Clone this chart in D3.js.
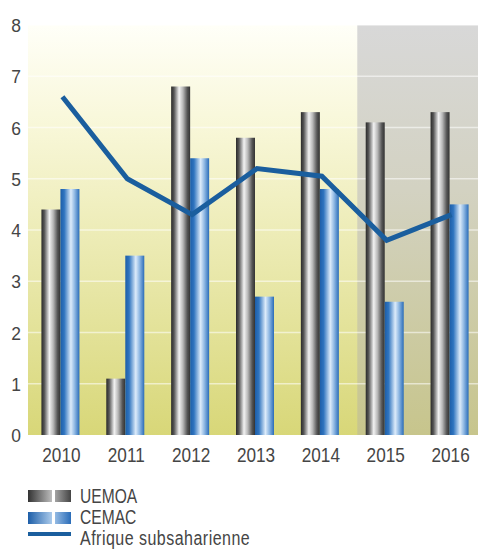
<!DOCTYPE html>
<html><head><meta charset="utf-8">
<script src="https://cdn.jsdelivr.net/npm/d3@7"></script>
<style>html,body{margin:0;padding:0;background:#fff;}svg{display:block;}</style>
</head><body>
<svg id="chart" width="478" height="553"></svg>
<script>
const years = ["2010","2011","2012","2013","2014","2015","2016"];
const uemoa = [4.4, 1.1, 6.8, 5.8, 6.3, 6.1, 6.3];
const cemac = [4.8, 3.5, 5.4, 2.7, 4.8, 2.6, 4.5];
const afrique = [6.6, 5.0, 4.3, 5.2, 5.05, 3.8, 4.3];
const yTicks = [0,1,2,3,4,5,6,7,8];
const shadedYears = ["2015","2016"];
const seriesNames = ["UEMOA", "CEMAC", "Afrique subsaharienne"];

(function(){
const svg = d3.select("#chart");
const font = "'Liberation Sans Narrow','Arial Narrow','Liberation Sans',Arial,sans-serif";
const pLeft = 28, pRight = 482, pTop = 25, pBottom = 435;

const x = d3.scaleBand().domain(years).range([pLeft, pRight]).padding(0);
const inner = d3.scaleBand().domain(["u","c"]).range([0, 38]);
const y = d3.scaleLinear().domain([0, 8]).range([pBottom, pTop]);

const defs = svg.append("defs");
const bg = defs.append("linearGradient").attr("id","bg").attr("x1",0).attr("y1",0).attr("x2",0).attr("y2",1);
bg.append("stop").attr("offset","0%").attr("stop-color","#fffff8");
bg.append("stop").attr("offset","25%").attr("stop-color","#f8f7d8");
bg.append("stop").attr("offset","100%").attr("stop-color","#d8d778");
const gbg = defs.append("linearGradient").attr("id","gbg").attr("x1",0).attr("y1",0).attr("x2",0).attr("y2",1);
gbg.append("stop").attr("offset","0%").attr("stop-color","#d8d8d8");
gbg.append("stop").attr("offset","40%").attr("stop-color","#d3d2c2");
gbg.append("stop").attr("offset","100%").attr("stop-color","#c7c58c");

function cyl(id, stops, user){
  const g = defs.append("linearGradient").attr("id",id);
  if (user) g.attr("gradientUnits","userSpaceOnUse").attr("x1",user[0]).attr("x2",user[1]).attr("y1",0).attr("y2",0);
  else g.attr("x1",0).attr("y1",0).attr("x2",1).attr("y2",0);
  stops.forEach(s=>g.append("stop").attr("offset",s[0]).attr("stop-color",s[1]));
}
cyl("gu", [["0%","#2a2a2a"],["15%","#555"],["42%","#f2f2f2"],["62%","#b8b8b8"],["85%","#555"],["100%","#333"]]);
cyl("gc", [["0%","#1d5ea8"],["20%","#2f74bf"],["55%","#dcebfa"],["75%","#8fb8e3"],["100%","#2a6cb8"]]);
cyl("lu", [["0%","#333"],["55%","#bbb"],["60%","#aaa"],["100%","#444"]], [28,71]);
cyl("lc", [["0%","#1d5ea8"],["55%","#a9c9ea"],["60%","#9cc0e6"],["100%","#2a6cb8"]], [28,71]);

svg.append("rect").attr("x", pLeft).attr("y", y(8)).attr("width", 478-pLeft).attr("height", y(0)-y(8)).attr("fill","url(#bg)");
const gx = x(shadedYears[0]) + 5;
svg.append("rect").attr("x", gx).attr("y", y(8)).attr("width", 478-gx).attr("height", y(0)-y(8)).attr("fill","url(#gbg)");

svg.append("g").selectAll("line").data(yTicks.filter(d=>d>0)).join("line")
  .attr("x1", pLeft).attr("x2", 478).attr("y1", d=>y(d)).attr("y2", d=>y(d))
  .attr("stroke","#ffffff").attr("stroke-opacity",0.55).attr("stroke-width",1.5);

function label(g, tx, ty, txt, size, anchor, sx, ls){
  return g.append("text").attr("transform", `translate(${tx},${ty}) scale(${sx},1)`)
    .attr("text-anchor", anchor).attr("font-family", font).attr("font-size", size)
    .attr("letter-spacing", ls || 0)
    .attr("fill", "#454545").text(txt);
}
const yl = svg.append("g");
yTicks.forEach(d => label(yl, 16, y(d)+7, d, 19, "middle", 0.92));

const groups = svg.append("g").selectAll("g").data(years).join("g")
  .attr("transform", d=>`translate(${x(d)+x.bandwidth()/2-19},0)`);
groups.append("rect").attr("x", inner("u")).attr("width", inner.bandwidth())
  .attr("y", (d,i)=>y(uemoa[i])).attr("height",(d,i)=>y(0)-y(uemoa[i])).attr("fill","url(#gu)");
groups.append("rect").attr("x", inner("c")).attr("width", inner.bandwidth())
  .attr("y", (d,i)=>y(cemac[i])).attr("height",(d,i)=>y(0)-y(cemac[i])).attr("fill","url(#gc)");

const line = d3.line().x((d,i)=>x(years[i])+x.bandwidth()/2+2).y(d=>y(d));
svg.append("path").datum(afrique).attr("d", line).attr("fill","none")
  .attr("stroke","#1a5e9e").attr("stroke-width",5).attr("stroke-linejoin","miter");

const xl = svg.append("g");
years.forEach(d => label(xl, x(d)+x.bandwidth()/2+1, 462, d, 20, "middle", 0.86));

const lg = svg.append("g");
const ly = [496, 518];
const lb = [503, 524];
["url(#lu)","url(#lc)"].forEach((f,i)=>{
  lg.append("rect").attr("x",28).attr("y",ly[i]-6).attr("width",24).attr("height",12).attr("fill",f);
  lg.append("rect").attr("x",55).attr("y",ly[i]-6).attr("width",16).attr("height",12).attr("fill",f);
  label(lg, 80, lb[i], seriesNames[i], 20, "start", 0.78);
});
lg.append("line").attr("x1",28).attr("x2",71).attr("y1",534).attr("y2",534).attr("stroke","#1a5e9e").attr("stroke-width",4);
label(lg, 80, 545, seriesNames[2], 20, "start", 0.8, 0.6);
})();
</script>
</body></html>
